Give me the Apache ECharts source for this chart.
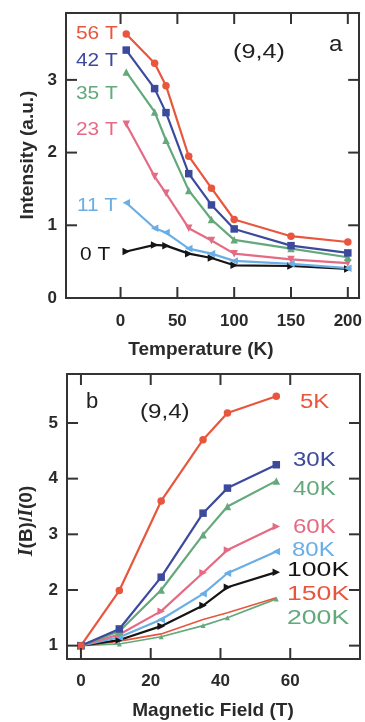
<!DOCTYPE html>
<html><head><meta charset="utf-8">
<script src="https://cdn.jsdelivr.net/npm/echarts@6/dist/echarts.min.js"></script>
<style>html,body{margin:0;padding:0;background:#fff}#c{width:365px;height:722px}</style>
</head><body><div id="c"></div>
<script>
// Panel a: Intensity vs Temperature
const tempK = [5, 30, 40, 60, 80, 100, 150, 200];
const int56T = [3.63, 3.23, 2.92, 1.95, 1.51, 1.08, 0.85, 0.77];
const int42T = [3.41, 2.88, 2.55, 1.71, 1.28, 0.95, 0.72, 0.62];
const int35T = [3.11, 2.56, 2.17, 1.48, 1.08, 0.80, 0.68, 0.56];
const int23T = [2.39, 1.67, 1.44, 0.96, 0.79, 0.61, 0.53, 0.48];
const int11T = [1.31, 0.96, 0.90, 0.68, 0.61, 0.51, 0.47, 0.41];
const int0T  = [0.64, 0.73, 0.72, 0.61, 0.55, 0.45, 0.44, 0.40];
const tempTicks = [0, 50, 100, 150, 200];
const intTicks = [0, 1, 2, 3];

// Panel b: I(B)/I(0) vs Magnetic Field
const fieldT = [0, 11, 23, 35, 42, 56];
const r5K   = [1, 1.99, 3.60, 4.70, 5.18, 5.48];
const r30K  = [1, 1.30, 2.23, 3.38, 3.83, 4.25];
const r40K  = [1, 1.26, 2.00, 2.99, 3.50, 3.96];
const r60K  = [1, 1.20, 1.62, 2.31, 2.72, 3.14];
const r80K  = [1, 1.15, 1.47, 1.93, 2.30, 2.69];
const r100K = [1, 1.10, 1.35, 1.72, 2.05, 2.32];
const r150K = [1, 1.08, 1.21, 1.47, 1.59, 1.86];
const r200K = [1, 1.03, 1.16, 1.36, 1.50, 1.84];
const fieldTicks = [0, 20, 40, 60];
const ratioTicks = [1, 2, 3, 4, 5];

const RED = '#e8573d', BLUE = '#3c4a9e', GREEN = '#63a97b', PINK = '#e56a84', LBLUE = '#6aaee6', BLACK = '#151515';
const FONT = 'Liberation Sans, Arial, sans-serif';
const tickLbl = {fontFamily: FONT, fontWeight: 'bold', fontSize: 17, color: '#2a2a2a'};
const frame = {show: true, onZero: false, lineStyle: {color: '#333', width: 2}};
const TICK_LEN = 11;

function ax(idx, min, max, ticks, showLbl, pos, margin) {
  return {type: 'value', gridIndex: idx, min, max, position: pos,
    axisLine: frame, splitLine: {show: false}, axisTick: {show: false},
    axisLabel: Object.assign({show: showLbl, customValues: ticks, margin}, tickLbl)};
}
function ser(xs, ys, color, symbol, xi, yi, size, lw) {
  return {type: 'line', xAxisIndex: xi, yAxisIndex: yi, data: xs.map((x, i) => [x, ys[i]]),
    symbol, symbolSize: size || 7.5, showAllSymbol: true,
    lineStyle: {color, width: lw || 2.2}, itemStyle: {color, borderWidth: 0}, animation: false, z: 3};
}
// Inward ticks on all four sides, placed through the axis scales
function tickSeries(vals, dir, xi, yi, refX, refY) {
  return {type: 'custom', xAxisIndex: xi, yAxisIndex: yi, clip: false, silent: true, z: 5,
    data: vals.map(v => dir === 'x' ? [v, refY] : [refX, v]),
    renderItem: function (params, api) {
      const cs = params.coordSys;
      const p = api.coord([api.value(0), api.value(1)]);
      const st = {stroke: '#333', lineWidth: 2};
      if (dir === 'x') {
        const b = cs.y + cs.height, t = cs.y;
        return {type: 'group', children: [
          {type: 'line', shape: {x1: p[0], y1: b, x2: p[0], y2: b - TICK_LEN}, style: st},
          {type: 'line', shape: {x1: p[0], y1: t, x2: p[0], y2: t + TICK_LEN}, style: st}]};
      } else {
        const l = cs.x, r = cs.x + cs.width;
        return {type: 'group', children: [
          {type: 'line', shape: {x1: l, y1: p[1], x2: l + TICK_LEN, y2: p[1]}, style: st},
          {type: 'line', shape: {x1: r, y1: p[1], x2: r - TICK_LEN, y2: p[1]}, style: st}]};
      }
    }};
}
const triL = 'path://M0,5L10,0L10,10Z';
const triR = 'path://M10,5L0,0L0,10Z';
const triD = 'path://M0,0L10,0L5,10Z';

function txt(x, y, t, color, size, sx, extra) {
  return {type: 'text', x, y, scaleX: sx || 1,
    style: Object.assign({text: t, fill: color, fontFamily: FONT, fontSize: size || 19, verticalAlign: 'middle'}, extra || {})};
}

const option = {
  animation: false,
  grid: [
    {left: 66, top: 13, width: 294, height: 285},
    {left: 67, top: 374, width: 293, height: 285}
  ],
  xAxis: [
    ax(0, -48, 210, tempTicks, true, 'bottom', 15),
    ax(0, -48, 210, tempTicks, false, 'top', 8),
    ax(1, -4, 80, fieldTicks, true, 'bottom', 14),
    ax(1, -4, 80, fieldTicks, false, 'top', 8)
  ],
  yAxis: [
    ax(0, 0, 3.92, intTicks, true, 'left', 9),
    ax(0, 0, 3.92, intTicks, false, 'right', 8),
    ax(1, 0.76, 5.88, ratioTicks, true, 'left', 9),
    ax(1, 0.76, 5.88, ratioTicks, false, 'right', 8)
  ],
  series: [
    tickSeries(tempTicks, 'x', 0, 0, 0, 1),
    tickSeries(intTicks, 'y', 0, 0, 0, 1),
    tickSeries(fieldTicks, 'x', 2, 2, 0, 1),
    tickSeries(ratioTicks, 'y', 2, 2, 0, 1),
    ser(tempK, int0T, BLACK, triR, 0, 0),
    ser(tempK, int11T, LBLUE, triL, 0, 0),
    ser(tempK, int23T, PINK, triD, 0, 0),
    ser(tempK, int35T, GREEN, 'triangle', 0, 0),
    ser(tempK, int42T, BLUE, 'rect', 0, 0),
    ser(tempK, int56T, RED, 'circle', 0, 0),
    ser(fieldT, r200K, GREEN, 'triangle', 2, 2, 5, 1.7),
    ser(fieldT, r150K, RED, 'none', 2, 2, 5, 1.7),
    ser(fieldT, r100K, BLACK, triR, 2, 2),
    ser(fieldT, r80K, LBLUE, triL, 2, 2),
    ser(fieldT, r60K, PINK, triR, 2, 2),
    ser(fieldT, r40K, GREEN, 'triangle', 2, 2),
    ser(fieldT, r30K, BLUE, 'rect', 2, 2),
    ser(fieldT, r5K, RED, 'circle', 2, 2)
  ],
  graphic: [
    txt(76, 34, '56 T', RED, 19, 1.1),
    txt(76, 61, '42 T', BLUE, 19, 1.1),
    txt(76, 94, '35 T', GREEN, 19, 1.1),
    txt(76, 130, '23 T', PINK, 19, 1.1),
    txt(77, 206, '11 T', LBLUE, 19, 1.1),
    txt(80, 255, '0 T', BLACK, 19, 1.1),
    txt(233, 52, '(9,4)', '#222', 21, 1.2),
    txt(329, 45, 'a', '#222', 22, 1.1),
    txt(86, 402, 'b', '#222', 22, 1.0),
    txt(140, 412, '(9,4)', '#222', 21, 1.15),
    txt(300, 402, '5K', RED, 20, 1.2),
    txt(293, 460, '30K', BLUE, 20, 1.2),
    txt(293, 489, '40K', GREEN, 20, 1.2),
    txt(293, 527, '60K', PINK, 20, 1.2),
    txt(292, 550, '80K', LBLUE, 20, 1.2),
    txt(287, 570, '100K', BLACK, 20, 1.33),
    txt(287, 594, '150K', RED, 20, 1.33),
    txt(287, 618, '200K', GREEN, 20, 1.33),
    txt(201, 350, 'Temperature (K)', '#2a2a2a', 19, 1, {fontWeight: 'bold', align: 'center'}),
    txt(213, 711, 'Magnetic Field (T)', '#2a2a2a', 19, 1, {fontWeight: 'bold', align: 'center'}),
    {type: 'text', x: 28, y: 155, rotation: Math.PI / 2,
      style: {text: 'Intensity (a.u.)', fill: '#2a2a2a', fontFamily: FONT, fontWeight: 'bold', fontSize: 19, align: 'center', verticalAlign: 'middle'}},
    {type: 'text', x: 27, y: 521, rotation: Math.PI / 2,
      style: {text: '{i|I}(B)/{i|I}(0)', fill: '#2a2a2a', fontFamily: FONT, fontWeight: 'bold', fontSize: 19, align: 'center', verticalAlign: 'middle',
        rich: {i: {fontFamily: 'Liberation Serif, serif', fontStyle: 'italic', fontWeight: 'bold', fontSize: 20, fill: '#2a2a2a'}}}}
  ]
};
const chart = echarts.init(document.getElementById('c'), null, {renderer: 'canvas'});
chart.setOption(option);
</script></body></html>
